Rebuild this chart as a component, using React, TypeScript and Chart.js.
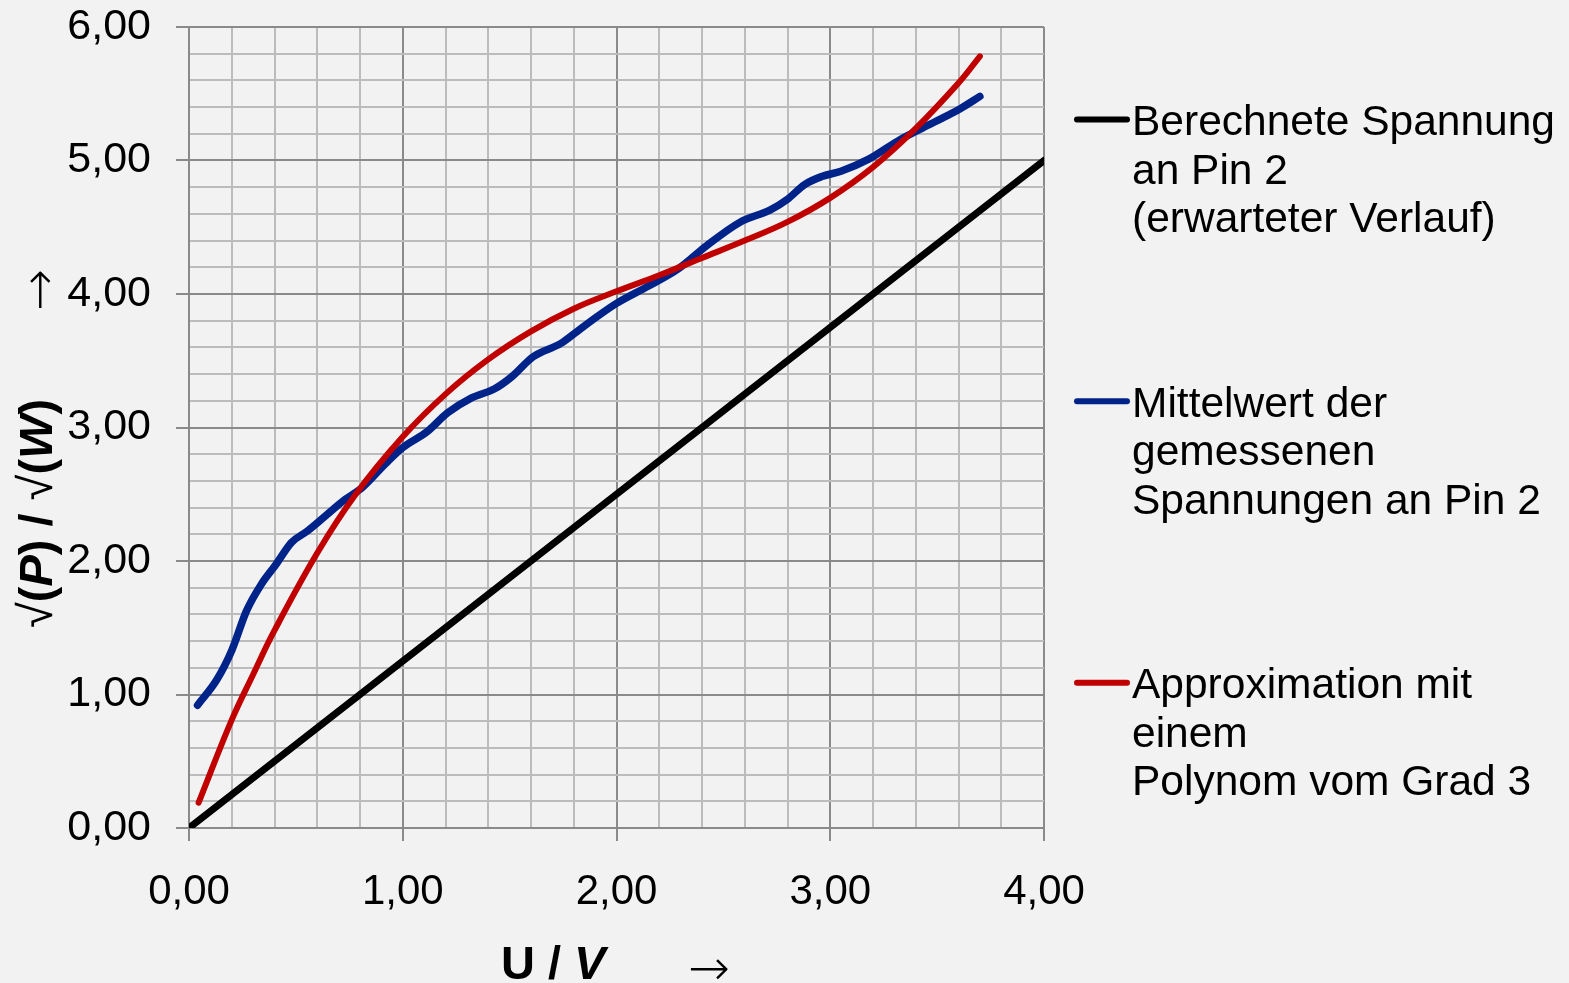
import React, { useEffect, useRef } from 'react';
import { Chart, registerables } from 'chart.js';

Chart.register(...registerables);

const FONT = "'Liberation Sans', Arial, Helvetica, sans-serif";
const ARROW_FONT = "200 50px 'DejaVu Sans', 'Liberation Sans', sans-serif";

// Berechnete Spannung (erwarteter Verlauf)
const calcU = [0, 4];
const calcP = [0, 5];

// Mittelwert der gemessenen Spannungen
const meanU = [0.04, 0.13, 0.2, 0.27, 0.34, 0.405, 0.48, 0.55, 0.64, 0.73, 0.81, 0.92, 1.0, 1.115, 1.21, 1.32, 1.43, 1.51, 1.61, 1.74, 1.8, 1.9, 2.0, 2.15, 2.29, 2.42, 2.58, 2.72, 2.8, 2.88, 2.96, 3.05, 3.18, 3.33, 3.49, 3.61, 3.7];
const meanP = [0.92, 1.11, 1.33, 1.63, 1.83, 1.97, 2.14, 2.22, 2.34, 2.46, 2.55, 2.73, 2.85, 2.97, 3.11, 3.22, 3.29, 3.38, 3.53, 3.63, 3.7, 3.82, 3.93, 4.06, 4.19, 4.36, 4.54, 4.63, 4.71, 4.82, 4.88, 4.92, 5.01, 5.16, 5.29, 5.39, 5.48];

// Approximation mit einem Polynom vom Grad 3
const polyU = [0.045, 0.2, 0.3, 0.4, 0.6, 0.78, 1.0, 1.2, 1.4, 1.6, 1.8, 2.0, 2.2, 2.4, 2.6, 2.8, 3.0, 3.2, 3.4, 3.6, 3.7];
const polyP = [0.19, 0.81, 1.15, 1.48, 2.06, 2.5, 2.93, 3.25, 3.51, 3.72, 3.89, 4.02, 4.14, 4.27, 4.4, 4.54, 4.72, 4.95, 5.24, 5.58, 5.78];

const xTickLabels = ['0,00', '1,00', '2,00', '3,00', '4,00'];
const yTickLabels = ['0,00', '1,00', '2,00', '3,00', '4,00', '5,00', '6,00'];

const calcLabel = ['Berechnete Spannung', 'an Pin 2', '(erwarteter Verlauf)'];
const meanLabel = ['Mittelwert der', 'gemessenen', 'Spannungen an Pin 2'];
const polyLabel = ['Approximation mit', 'einem', 'Polynom vom Grad 3'];

const toPoints = (xs: number[], ys: number[]) => xs.map((x, i) => ({ x, y: ys[i] }));
const isMajor = (v: number) => Math.abs(v - Math.round(v)) < 1e-6;

const MAJOR = '#8a8a8a';
const MINOR = '#bcbcbc';

const bgPlugin = {
  id: 'bg',
  beforeDraw(chart: any) {
    const ctx = chart.ctx;
    ctx.save();
    ctx.fillStyle = '#f2f2f2';
    ctx.fillRect(0, 0, chart.width, chart.height);
    ctx.restore();
  },
};

const drawRuns = (ctx: any, runs: { t: string; f: string }[], x: number, y: number) => {
  let cx = x;
  runs.forEach((r) => {
    ctx.font = r.f;
    ctx.fillText(r.t, cx, y);
    cx += ctx.measureText(r.t).width;
  });
  return cx;
};

const titlesPlugin = {
  id: 'titles',
  afterDraw(chart: any) {
    const ctx = chart.ctx;
    const B = `bold 47px ${FONT}`;
    const BI = `italic bold 47px ${FONT}`;
    const R = `47px ${FONT}`;
    ctx.save();
    ctx.fillStyle = '#000';
    ctx.textAlign = 'left';
    ctx.textBaseline = 'alphabetic';
    // x title
    drawRuns(ctx, [{ t: 'U', f: B }, { t: ' / ', f: B }, { t: 'V', f: BI }], 501, 979);
    ctx.font = ARROW_FONT;
    ctx.fillText('\u2192', 688, 985);
    ctx.restore();

    // y title (rotated)
    ctx.save();
    ctx.fillStyle = '#000';
    ctx.textAlign = 'left';
    ctx.textBaseline = 'alphabetic';
    ctx.translate(52, 628);
    ctx.rotate(-Math.PI / 2);
    drawRuns(ctx, [
      { t: '\u221A', f: R },
      { t: '(', f: B },
      { t: 'P', f: BI },
      { t: ')', f: B },
      { t: ' / ', f: B },
      { t: '\u221A', f: R },
      { t: '(', f: B },
      { t: 'W', f: BI },
      { t: ')', f: B },
    ], 0, 0);
    ctx.restore();

    ctx.save();
    ctx.fillStyle = '#000';
    ctx.textAlign = 'left';
    ctx.textBaseline = 'alphabetic';
    ctx.translate(56, 311);
    ctx.rotate(-Math.PI / 2);
    ctx.font = ARROW_FONT;
    ctx.fillText('\u2192', 0, 0);
    ctx.restore();
  },
};

const legendPlugin = {
  id: 'sideLegend',
  afterDraw(chart: any) {
    const ctx = chart.ctx;
    const bases = [135, 416.7, 698.3];
    const step = 48.5;
    ctx.save();
    chart.data.datasets.forEach((ds: any, i: number) => {
      const lines = String(ds.label).split('\n');
      const base = bases[i];
      ctx.strokeStyle = ds.borderColor;
      ctx.lineWidth = 6;
      ctx.lineCap = 'round';
      ctx.beginPath();
      ctx.moveTo(1077, base - 15.5);
      ctx.lineTo(1127, base - 15.5);
      ctx.stroke();
      ctx.fillStyle = '#000';
      ctx.font = `42.5px ${FONT}`;
      ctx.textAlign = 'left';
      ctx.textBaseline = 'alphabetic';
      lines.forEach((l: string, k: number) => ctx.fillText(l, 1132, base + k * step));
    });
    ctx.restore();
  },
};

const zeroPad = (s: any) => {
  s.paddingTop = 0;
  s.paddingBottom = 0;
  s.paddingLeft = 0;
  s.paddingRight = 0;
};

export default function App() {
  const ref = useRef<HTMLCanvasElement | null>(null);

  useEffect(() => {
    if (!ref.current) return;
    const chart = new Chart(ref.current, {
      type: 'line',
      data: {
        datasets: [
          {
            label: calcLabel.join('\n'),
            data: toPoints(calcU, calcP),
            borderColor: '#000000',
            borderWidth: 7,
            pointRadius: 0,
            borderCapStyle: 'round',
            order: 2,
          },
          {
            label: meanLabel.join('\n'),
            data: toPoints(meanU, meanP),
            borderColor: '#00238a',
            borderWidth: 7.5,
            pointRadius: 0,
            borderCapStyle: 'round',
            borderJoinStyle: 'round',
            cubicInterpolationMode: 'monotone',
            order: 1,
          },
          {
            label: polyLabel.join('\n'),
            data: toPoints(polyU, polyP),
            borderColor: '#c00000',
            borderWidth: 6,
            pointRadius: 0,
            borderCapStyle: 'round',
            borderJoinStyle: 'round',
            tension: 0.4,
            order: 0,
          },
        ],
      } as any,
      options: {
        animation: false,
        responsive: false,
        devicePixelRatio: 1,
        layout: { padding: { top: 27, right: 525, left: 0, bottom: 0 } },
        plugins: {
          legend: { display: false },
          tooltip: { enabled: false },
        },
        scales: {
          x: {
            type: 'linear',
            min: 0,
            max: 4,
            afterFit: (s: any) => { s.height = 155; zeroPad(s); },
            border: { color: MAJOR, width: 2 },
            grid: {
              color: (c: any) => (isMajor(c.tick.value) ? MAJOR : MINOR),
              lineWidth: 2,
              drawTicks: true,
              tickLength: 13,
              tickWidth: 2,
              tickColor: (c: any) => (isMajor(c.tick.value) ? MAJOR : 'rgba(0,0,0,0)'),
            },
            ticks: {
              stepSize: 0.2,
              autoSkip: false,
              maxRotation: 0,
              padding: 26,
              color: '#000',
              font: { family: FONT, size: 42 },
              callback: (v: any) => (isMajor(Number(v)) ? xTickLabels[Math.round(Number(v))] : ''),
            },
          },
          y: {
            type: 'linear',
            min: 0,
            max: 6,
            afterFit: (s: any) => { s.width = 189; zeroPad(s); },
            border: { color: MAJOR, width: 2 },
            grid: {
              color: (c: any) => (isMajor(c.tick.value) ? MAJOR : MINOR),
              lineWidth: 2,
              drawTicks: true,
              tickLength: 13,
              tickWidth: 2,
              tickColor: (c: any) => (isMajor(c.tick.value) ? MAJOR : 'rgba(0,0,0,0)'),
            },
            ticks: {
              stepSize: 0.2,
              autoSkip: false,
              padding: 25,
              color: '#000',
              font: { family: FONT, size: 43 },
              callback: (v: any) => (isMajor(Number(v)) ? yTickLabels[Math.round(Number(v))] : ''),
            },
          },
        },
      } as any,
      plugins: [bgPlugin, titlesPlugin, legendPlugin],
    });
    return () => chart.destroy();
  }, []);

  return (
    <div style={{ position: 'fixed', left: 0, top: 0, width: 1569, height: 983, background: '#f2f2f2' }}>
      <canvas ref={ref} width={1569} height={983} style={{ display: 'block' }} />
    </div>
  );
}
